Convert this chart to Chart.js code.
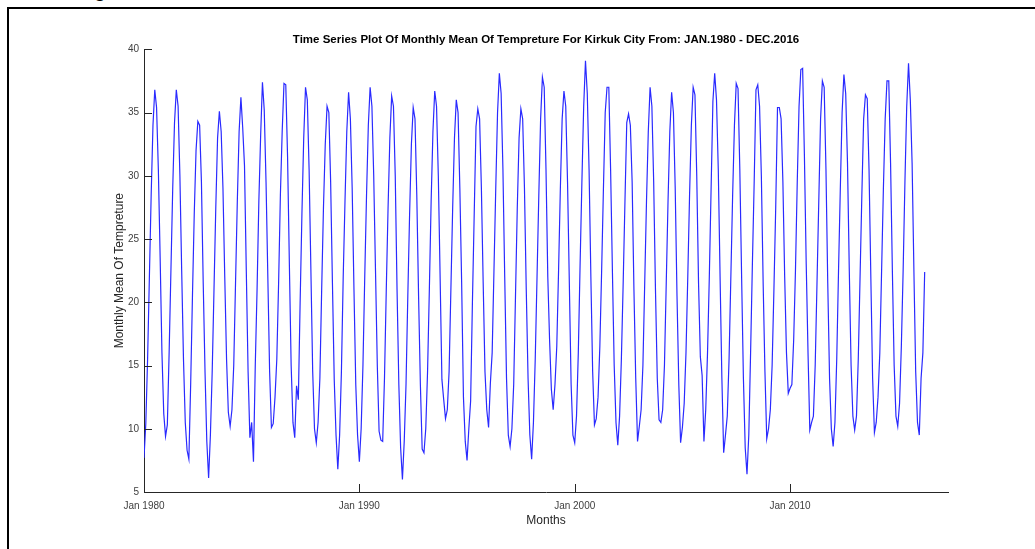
<!DOCTYPE html>
<html>
<head>
<meta charset="utf-8">
<title>Kirkuk monthly mean temperature</title>
<script src="https://cdn.jsdelivr.net/npm/chart.js@4/dist/chart.umd.min.js"></script>
<style>
  html, body { margin: 0; padding: 0; background: #fff; overflow: hidden; }
  #page { position: relative; width: 1035px; height: 549px; }
  #frame {
    position: absolute; left: 7px; top: 7px; right: 0; bottom: 0;
    border-left: 2px solid #000; border-top: 2px solid #000;
  }
  #cut {
    position: absolute; left: 94px; top: -21px;
    font: 21px/21px 'Liberation Sans', Arial, sans-serif; color: #000;
  }
  #chart { position: absolute; left: 0; top: 0; }
</style>
</head>
<body>
<div id="page">
  <div id="cut">g</div>
  <div id="frame"></div>
  <canvas id="chart" width="1035" height="549"></canvas>
</div>
<script>
// Monthly mean temperature (°C), Kirkuk, one row per year, Jan..Dec
const temps1980s = [
  7.7, 10.4, 15.5, 22.0, 28.5, 34.0, 36.8, 35.4, 30.5, 23.5, 16.0, 11.2,
  9.4, 10.3, 16.0, 22.5, 29.0, 34.2, 36.8, 35.5, 30.0, 22.5, 15.5, 10.5,
  8.3, 7.6, 13.5, 20.5, 27.0, 32.0, 34.3, 34.0, 29.5, 21.5, 14.5, 9.0,
  6.1, 9.5, 14.5, 21.0, 27.5, 33.0, 35.1, 33.5, 29.0, 22.0, 15.5, 11.3,
  10.2, 11.5, 15.0, 21.5, 28.0, 33.5, 36.2, 33.8, 30.8, 22.5, 14.5, 9.3,
  10.5, 7.4, 15.0, 21.0, 28.0, 33.2, 37.4, 35.2, 29.5, 22.0, 14.5, 10.1,
  10.4, 12.5, 15.5, 21.5, 28.5, 33.5, 37.3, 37.2, 31.5, 23.0, 15.0, 10.5,
  9.3, 13.4, 12.3, 20.0, 27.0, 33.0, 37.0, 36.0, 30.5, 22.5, 14.5, 10.0,
  8.9, 10.5, 14.0, 21.0, 27.5, 32.5, 35.5, 35.0, 29.5, 21.5, 13.9, 9.5,
  6.8, 9.5, 14.5, 22.0, 28.0, 33.5, 36.6, 34.5, 29.0, 21.0, 13.5, 9.5
];
const temps1990s = [
  7.4, 10.0, 15.0, 22.0, 28.5, 34.0, 37.0, 35.5, 30.0, 22.5, 15.0, 9.8,
  9.1, 9.0, 14.0, 21.0, 27.5, 33.0, 36.3, 35.5, 30.0, 21.0, 13.5, 8.5,
  6.0, 9.0, 13.5, 20.5, 27.0, 32.5, 35.4, 34.5, 28.5, 20.5, 13.5, 8.4,
  8.1, 10.0, 14.5, 21.0, 28.0, 33.5, 36.7, 35.5, 30.0, 22.0, 13.9, 12.3,
  10.8, 11.5, 14.5, 21.0, 27.5, 33.0, 36.0, 35.0, 29.0, 21.5, 12.5, 9.0,
  7.5, 10.0, 12.2, 20.0, 27.0, 33.9, 35.3, 34.5, 29.0, 21.5, 14.5, 11.5,
  10.1, 13.6, 16.0, 22.5, 29.0, 35.0, 38.1, 36.5, 30.5, 22.0, 14.0, 9.5,
  8.6, 10.0, 13.5, 20.5, 27.5, 33.0, 35.3, 34.5, 29.0, 21.0, 14.0, 9.5,
  7.6, 10.5, 15.5, 22.0, 28.5, 34.5, 37.8, 37.0, 30.5, 22.0, 17.0, 13.1,
  11.5, 13.5, 16.5, 22.5, 29.0, 34.5, 36.7, 35.5, 29.5, 21.5, 13.5, 9.5
];
const temps2000s = [
  8.9, 11.0, 16.0, 23.0, 29.5, 35.5, 39.1, 36.5, 30.5, 22.0, 14.5, 10.3,
  10.8, 12.5, 16.5, 22.5, 29.0, 35.0, 37.0, 37.0, 30.5, 22.5, 15.0, 10.5,
  8.7, 11.0, 15.5, 21.5, 28.0, 34.2, 34.9, 34.0, 29.5, 21.0, 14.0, 9.0,
  10.2, 11.5, 15.0, 21.5, 28.0, 33.5, 37.0, 35.5, 29.5, 21.0, 14.0, 10.7,
  10.5, 11.5, 15.0, 21.5, 28.0, 33.5, 36.6, 35.0, 29.0, 20.5, 13.5, 8.9,
  10.1, 12.0, 16.0, 22.0, 28.5, 34.0, 37.0, 36.4, 30.0, 21.5, 15.7, 14.2,
  9.0, 11.5, 16.0, 22.0, 29.0, 35.9, 38.1, 36.0, 30.5, 22.0, 14.0, 8.1,
  9.5, 11.0, 15.5, 22.0, 28.5, 34.0, 37.3, 36.9, 30.5, 22.0, 14.0, 8.5,
  6.4, 9.5, 16.0, 23.0, 29.5, 36.8, 37.2, 35.5, 30.0, 21.5, 14.5, 9.2,
  10.0, 11.5, 15.0, 21.0, 27.5, 35.4, 35.4, 34.5, 29.5, 22.0, 16.0, 12.8
];
const temps2010s = [
  13.2, 13.5, 17.0, 22.5, 29.5, 35.5, 38.4, 38.5, 31.5, 23.0, 16.0, 9.9,
  10.5, 11.0, 15.0, 21.5, 28.0, 34.5, 37.5, 37.0, 30.5, 21.5, 14.0, 10.0,
  8.6, 10.5, 15.5, 22.5, 29.0, 35.0, 38.0, 36.5, 31.0, 22.5, 15.0, 11.0,
  9.9, 11.0, 15.5, 22.0, 28.5, 34.5, 36.4, 36.1, 30.5, 22.0, 14.0, 9.7,
  10.5, 12.5, 16.0, 22.5, 29.0, 34.5, 37.5, 37.5, 31.0, 22.5, 15.0, 11.0,
  10.2, 12.0, 16.5, 22.5, 29.5, 35.5, 38.9, 36.0, 31.0, 22.5, 14.5, 10.5,
  9.5, 14.0, 16.0, 22.4
];

// x axis: months counted from Jan 1980
const tickMonths = [0, 120, 240, 360];
const tickLabels = ['Jan 1980', 'Jan 1990', 'Jan 2000', 'Jan 2010'];
const lastMonth = 448;

const FONT = "'Liberation Sans', Arial, Helvetica, sans-serif";
const AXIS_COLOR = '#262626';
const TICK_LEN = 8;

const temps = [...temps1980s, ...temps1990s, ...temps2000s, ...temps2010s];
const points = temps.map((v, i) => ({ x: i, y: v }));

// MATLAB-style tick marks pointing into the axes
const innerTicks = {
  id: 'innerTicks',
  afterDraw(chart) {
    const { ctx, chartArea, scales: { x, y } } = chart;
    ctx.save();
    ctx.strokeStyle = AXIS_COLOR;
    ctx.lineWidth = 1;
    ctx.beginPath();
    y.ticks.forEach(t => {
      const py = Math.round(y.getPixelForValue(t.value)) + 0.5;
      ctx.moveTo(chartArea.left, py);
      ctx.lineTo(chartArea.left + TICK_LEN, py);
    });
    x.ticks.forEach(t => {
      const px = Math.round(x.getPixelForValue(t.value)) + 0.5;
      ctx.moveTo(px, chartArea.bottom);
      ctx.lineTo(px, chartArea.bottom - TICK_LEN);
    });
    ctx.stroke();
    ctx.restore();
  }
};

new Chart(document.getElementById('chart'), {
  type: 'line',
  data: {
    datasets: [{
      data: points,
      borderColor: '#2a2aff',
      borderWidth: 1.2,
      pointRadius: 0,
      tension: 0,
      fill: false
    }]
  },
  options: {
    responsive: false,
    animation: false,
    events: [],
    layout: { padding: { left: 105, right: 87, top: 33, bottom: 15 } },
    plugins: {
      legend: { display: false },
      tooltip: { enabled: false },
      title: {
        display: true,
        fullSize: false, // center over the plot area only
        text: 'Time Series Plot Of Monthly Mean Of Tempreture For Kirkuk City From: JAN.1980 - DEC.2016',
        color: '#000',
        font: { family: FONT, size: 11.5, weight: 'bold', lineHeight: 1.2 },
        padding: { top: 0, bottom: 2.5 }
      }
    },
    scales: {
      x: {
        type: 'linear',
        min: 0,
        max: lastMonth,
        afterFit(scale) { scale.height = 42; },
        afterBuildTicks(scale) {
          scale.ticks = tickMonths.map(v => ({ value: v }));
        },
        grid: { display: false, drawTicks: false },
        border: { display: true, color: AXIS_COLOR, width: 1 },
        ticks: {
          autoSkip: false,
          maxRotation: 0,
          padding: 8,
          color: '#404040',
          font: { family: FONT, size: 10 },
          callback: (value) => tickLabels[tickMonths.indexOf(value)]
        },
        title: {
          display: true,
          text: 'Months',
          color: AXIS_COLOR,
          font: { family: FONT, size: 12 },
          padding: { top: 0, bottom: 6 }
        }
      },
      y: {
        min: 5,
        max: 40,
        afterFit(scale) { scale.width = 39; },
        grid: { display: false, drawTicks: false },
        border: { display: true, color: AXIS_COLOR, width: 1 },
        ticks: {
          stepSize: 5,
          padding: 5,
          color: '#404040',
          font: { family: FONT, size: 10 }
        },
        title: {
          display: true,
          text: 'Monthly Mean Of Tempreture',
          color: AXIS_COLOR,
          font: { family: FONT, size: 12 },
          padding: { top: 7, bottom: 0 }
        }
      }
    }
  },
  plugins: [innerTicks]
});
</script>
</body>
</html>
